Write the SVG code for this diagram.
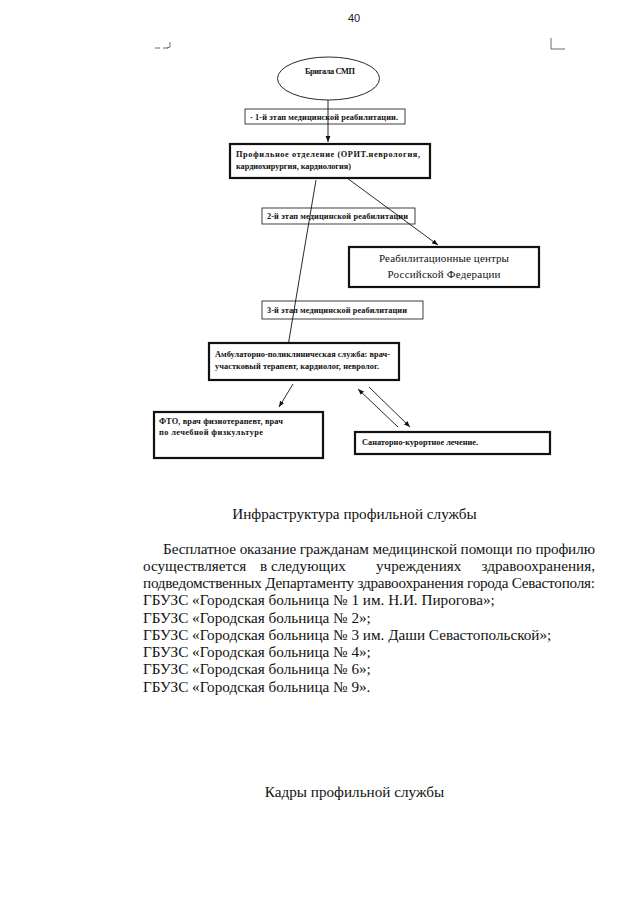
<svg xmlns="http://www.w3.org/2000/svg" width="626" height="905" viewBox="0 0 626 905">
<style>
  .bg { fill: #ffffff; }
  .box { fill: #ffffff; stroke: #111; stroke-width: 0.8; }
  .thick { fill: #ffffff; stroke: #111; stroke-width: 2.2; }
  .sm { font-family: "Liberation Serif", "Times New Roman", serif; font-size: 8.3px; font-weight: bold; fill: #111; }
  .md { font-family: "Liberation Serif", "Times New Roman", serif; font-size: 11px; fill: #111; }
  .body { font-family: "Liberation Serif", "Times New Roman", serif; font-size: 15.2px; fill: #111; }
  .num { font-family: "Liberation Sans", Arial, sans-serif; font-size: 11px; fill: #222; }
  .conn { stroke: #111; stroke-width: 0.9; fill: none; }
  .mark { stroke: #444; stroke-width: 0.8; fill: none; }
</style>
<defs>
  <marker id="arr" viewBox="0 0 10 10" refX="10" refY="5" markerWidth="6" markerHeight="6" orient="auto" markerUnits="userSpaceOnUse">
    <path d="M0,1 L10,5 L0,9 z" fill="#111"/>
  </marker>
</defs>
<rect class="bg" x="0" y="0" width="626" height="905"/>

<text class="num" x="354" y="22" text-anchor="middle">40</text>
<path class="mark" d="M155,48 L160,48 M163,48 L168,48 M170,42 L170,47 L167,48"/>
<path class="mark" d="M551,38 L551,49 L565,49"/>

<g id="node-brigada">
  <ellipse cx="328.5" cy="78.5" rx="51" ry="21.5" fill="#fff" stroke="#111" stroke-width="0.9"/>
  <text class="sm" x="330" y="74" text-anchor="middle" textLength="50">Бригала СМП</text>
</g>

<g id="node-stage1">
  <rect class="box" x="245" y="109" width="160" height="15"/>
  <text class="sm" x="250" y="120" textLength="148">· 1-й этап медицинской реабилитации.</text>
</g>

<g id="node-stage2">
  <rect class="box" x="262" y="208" width="153" height="16"/>
  <text class="sm" x="267" y="219" textLength="141">2-й этап медицинской реабилитации</text>
</g>

<g id="node-stage3">
  <rect class="box" x="262" y="301" width="161" height="18"/>
  <text class="sm" x="267" y="313" textLength="140">3-й этап медицинской реабилитации</text>
</g>

<g id="connectors">
  <line class="conn" x1="328" y1="100" x2="328" y2="142" marker-end="url(#arr)"/>
  <line class="conn" x1="347" y1="178" x2="438" y2="245" marker-end="url(#arr)"/>
  <line class="conn" x1="316" y1="180" x2="287" y2="352" marker-end="url(#arr)"/>
  <line class="conn" x1="293" y1="384" x2="279" y2="407" marker-end="url(#arr)"/>
  <line class="conn" x1="398" y1="427" x2="358" y2="389" marker-end="url(#arr)"/>
  <line class="conn" x1="369" y1="387" x2="410" y2="427" marker-end="url(#arr)"/>
</g>

<g id="node-profile">
  <rect class="thick" x="230" y="144" width="200" height="34"/>
  <text class="sm" x="236" y="157" textLength="184">Профильное отделение (ОРИТ.неврология,</text>
  <text class="sm" x="236" y="169" textLength="115">кардиохирургия, кардиология)</text>
</g>

<g id="node-rehab">
  <rect class="thick" x="349" y="247" width="190" height="40"/>
  <text class="md" x="444" y="262" text-anchor="middle" textLength="130">Реабилитационные центры</text>
  <text class="md" x="444" y="278" text-anchor="middle" textLength="113">Российской Федерации</text>
</g>

<g id="node-ambulatory">
  <rect class="thick" x="209" y="343" width="190" height="37"/>
  <text class="sm" x="215" y="357" textLength="175">Амбулаторно-поликлиническая служба: врач-</text>
  <text class="sm" x="215" y="369" textLength="164">участковый терапевт, кардиолог, невролог.</text>
</g>

<g id="node-fto">
  <rect class="thick" x="154" y="412" width="169" height="46"/>
  <text class="sm" x="159" y="424" textLength="124">ФТО, врач физиотерапевт, врач</text>
  <text class="sm" x="159" y="435" textLength="104">по лечебной физкультуре</text>
</g>

<g id="node-sanatorium">
  <rect class="thick" x="355" y="432" width="195" height="22"/>
  <text class="sm" x="362" y="445" textLength="116">Санаторно-курортное лечение.</text>
</g>

<g id="text-block">
  <text class="body" x="354.5" y="519" text-anchor="middle">Инфраструктура профильной службы</text>
  <text class="body" x="163" y="554" textLength="432" lengthAdjust="spacing">Бесплатное оказание гражданам медицинской помощи по профилю</text>
  <text class="body" x="143" y="571">осуществляется</text>
  <text class="body" x="260" y="571">в следующих</text>
  <text class="body" x="376" y="571">учреждениях</text>
  <text class="body" x="595" y="571" text-anchor="end">здравоохранения,</text>
  <text class="body" x="143" y="588" textLength="452" lengthAdjust="spacing">подведомственных Департаменту здравоохранения города Севастополя:</text>
  <text class="body" x="143" y="605">ГБУЗС «Городская больница № 1 им. Н.И. Пирогова»;</text>
  <text class="body" x="143" y="623">ГБУЗС «Городская больница № 2»;</text>
  <text class="body" x="143" y="640">ГБУЗС «Городская больница № 3 им. Даши Севастопольской»;</text>
  <text class="body" x="143" y="657">ГБУЗС «Городская больница № 4»;</text>
  <text class="body" x="143" y="674">ГБУЗС «Городская больница № 6»;</text>
  <text class="body" x="143" y="692">ГБУЗС «Городская больница № 9».</text>
  <text class="body" x="354.5" y="797" text-anchor="middle">Кадры профильной службы</text>
</g>
</svg>
